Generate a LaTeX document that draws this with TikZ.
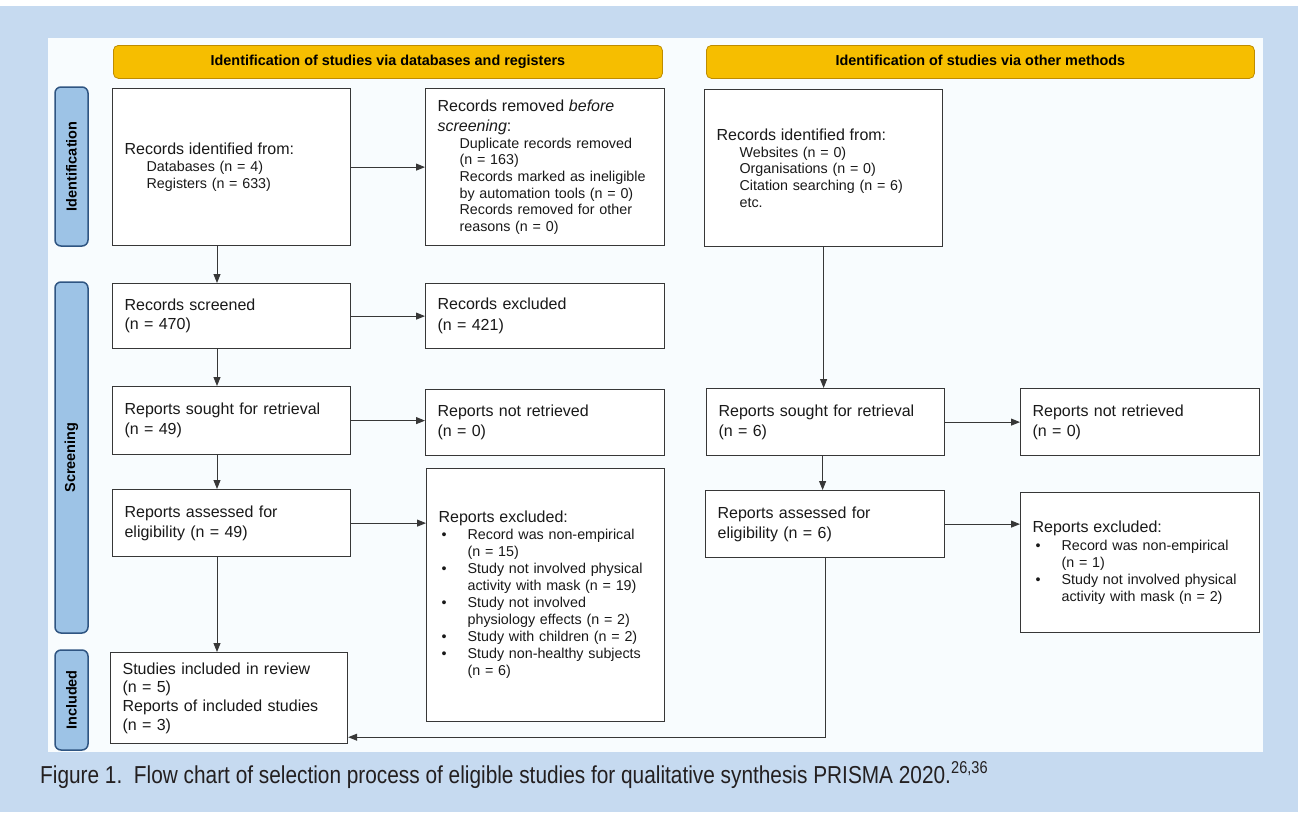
\documentclass[tikz,border=0pt]{standalone}
\usepackage{fontspec}
\setmainfont{Liberation Sans}
\usetikzlibrary{arrows.meta}
\definecolor{bgblue}{RGB}{198,218,240}
\definecolor{panel}{RGB}{248,252,254}
\definecolor{gold}{RGB}{246,190,0}
\definecolor{goldline}{RGB}{190,140,0}
\definecolor{sideblue}{RGB}{157,195,230}
\definecolor{sideline}{RGB}{47,85,130}
\definecolor{boxline}{RGB}{55,55,55}
\definecolor{captxt}{RGB}{35,31,32}
\newcommand{\bul}[1]{\hspace*{3pt}\makebox[26pt][l]{•}#1}
\newcommand{\ind}[1]{\hspace*{#1pt}}
\newcommand{\hd}[1]{{\fontsize{16}{16}\selectfont #1}}
\tikzset{
  fbox/.style={draw=boxline, line width=1.2pt, fill=white, inner xsep=12pt, inner ysep=0pt,
    align=left, anchor=north west, text=black!90},
  two/.style={font=\fontsize{16}{20}\selectfont},
  hdr/.style={draw=goldline, line width=0.8pt, fill=gold, rounded corners=5pt,
    font=\bfseries\fontsize{14.4}{16}\selectfont, anchor=north west, text height=10.5pt, text depth=2.5pt},
  side/.style={draw=sideline, line width=1.5pt, fill=sideblue, rounded corners=6pt,
    font=\bfseries\fontsize{14.5}{16}\selectfont, rotate=90, inner sep=0pt},
  arr/.style={draw=boxline, line width=0.9pt, -{Triangle[length=9pt,width=7pt]}},
}
\begin{document}
\begin{tikzpicture}[x=1pt,y=-1pt]
\useasboundingbox (0,0) rectangle (1298,812);
\fill[bgblue] (0,6) rectangle (1298,812);
\fill[white] (0,0) rectangle (1298,6);
\fill[panel] (48,38) rectangle (1263,752);

% headers
\node[hdr, minimum width=549pt, minimum height=33pt] (h1) at (113,45) {Identification of studies via databases and registers};
\node[hdr, minimum width=548pt, minimum height=33pt] (h2) at (706,45) {Identification of studies via other methods};

% side labels
\node[side, minimum width=159pt, minimum height=33pt] (s1) at (71.5,166.5) {Identification};
\node[side, minimum width=351pt, minimum height=33pt] (s2) at (71.5,457.5) {Screening};
\node[side, minimum width=100pt, minimum height=33pt] (s3) at (71.5,700) {Included};

% boxes
\node[fbox, text width=214pt, minimum height=157pt, font=\fontsize{14.3}{16.6}\selectfont] (A) at (112,88)
  {\hd{Records identified from:}\\ \ind{22}Databases (n = 4)\\ \ind{22}Registers (n = 633)};
\node[fbox, text width=215pt, minimum height=157pt, font=\fontsize{14.3}{16.6}\selectfont] (B) at (425,88)
  {\hd{Records removed \textit{before}}\\[3.5pt] \hd{\textit{screening}:}\\ \ind{22}Duplicate records removed\\ \ind{22}(n = 163)\\ \ind{22}Records marked as ineligible\\ \ind{22}by automation tools (n = 0)\\ \ind{22}Records removed for other\\ \ind{22}reasons (n = 0)};
\node[fbox, text width=214pt, minimum height=157pt, font=\fontsize{14.3}{16.75}\selectfont] (C) at (704,89)
  {\hd{Records identified from:}\\ \ind{23}Websites (n = 0)\\ \ind{23}Organisations (n = 0)\\ \ind{23}Citation searching (n = 6)\\ \ind{23}etc.};
\node[fbox, two, text width=214pt, minimum height=65pt, font=\fontsize{16}{19.5}\selectfont] (D) at (112,283)
  {Records screened\\ (n = 470)};
\node[fbox, two, text width=215pt, minimum height=65pt, font=\fontsize{16}{21}\selectfont] (E) at (425,283)
  {Records excluded\\ (n = 421)};
\node[fbox, two, text width=214pt, minimum height=68pt] (F) at (112,386)
  {Reports sought for retrieval\\ (n = 49)};
\node[fbox, two, text width=215pt, minimum height=66pt] (G) at (425,389)
  {Reports not retrieved\\ (n = 0)};
\node[fbox, two, text width=214pt, minimum height=67pt] (H) at (112,489)
  {Reports assessed for\\ eligibility (n = 49)};
\node[fbox, text width=214pt, minimum height=253pt, font=\fontsize{14.3}{17}\selectfont] (I) at (426,468)
  {\hd{Reports excluded:}\\ \bul{Record was non-empirical}\\ \ind{29}(n = 15)\\ \bul{Study not involved physical}\\ \ind{29}activity with mask (n = 19)\\ \bul{Study not involved}\\ \ind{29}physiology effects (n = 2)\\ \bul{Study with children (n = 2)}\\ \bul{Study non-healthy subjects}\\ \ind{29}(n = 6)};
\node[fbox, text width=213pt, minimum height=91pt, font=\fontsize{16}{18.7}\selectfont] (J) at (110,652)
  {Studies included in review\\ (n = 5)\\ Reports of included studies\\ (n = 3)};
\node[fbox, two, text width=214pt, minimum height=67pt] (K) at (706,388)
  {Reports sought for retrieval\\ (n = 6)};
\node[fbox, two, text width=215pt, minimum height=67pt] (L) at (1020,388)
  {Reports not retrieved\\ (n = 0)};
\node[fbox, two, text width=215pt, minimum height=67pt] (M) at (705,490)
  {Reports assessed for\\ eligibility (n = 6)};
\node[fbox, text width=215pt, minimum height=140pt, font=\fontsize{14.3}{17}\selectfont] (N) at (1020,492)
  {\hd{Reports excluded:}\\[1.5pt] \bul{Record was non-empirical}\\ \ind{29}(n = 1)\\ \bul{Study not involved physical}\\ \ind{29}activity with mask (n = 2)};

% arrows
\draw[arr] ([xshift=105pt]A.south west) -- ([xshift=105pt]D.north west);
\draw[arr] (A.east) -- (B.west);
\draw[arr] (C.south) -- (C.south |- K.north);
\draw[arr] (D.east) -- (E.west);
\draw[arr] ([xshift=105pt]D.south west) -- ([xshift=105pt]F.north west);
\draw[arr] (F.east) -- (F.east -| G.west);
\draw[arr] ([xshift=105pt]F.south west) -- ([xshift=105pt]H.north west);
\draw[arr] (H.east) -- (H.east -| I.west);
\draw[arr] ([xshift=105pt]H.south west) -- ([xshift=107pt]J.north west);
\draw[arr] (K.east) -- (K.east -| L.west);
\draw[arr] ([xshift=-3pt]K.south) -- ([xshift=-3pt]K.south |- M.north);
\draw[arr] (M.east) -- (M.east -| N.west);
\draw[arr] (M.south) |- ([yshift=7pt]J.south east);

% caption
\node[anchor=base west, inner sep=0pt, text=captxt, font=\fontsize{24.5}{28}\selectfont] (cap) at (40,783)
  {\scalebox{0.85}[1]{Figure 1.\ \ Flow chart of selection process of eligible studies for qualitative synthesis PRISMA 2020.\textsuperscript{26,36}}};
\end{tikzpicture}
\end{document}
